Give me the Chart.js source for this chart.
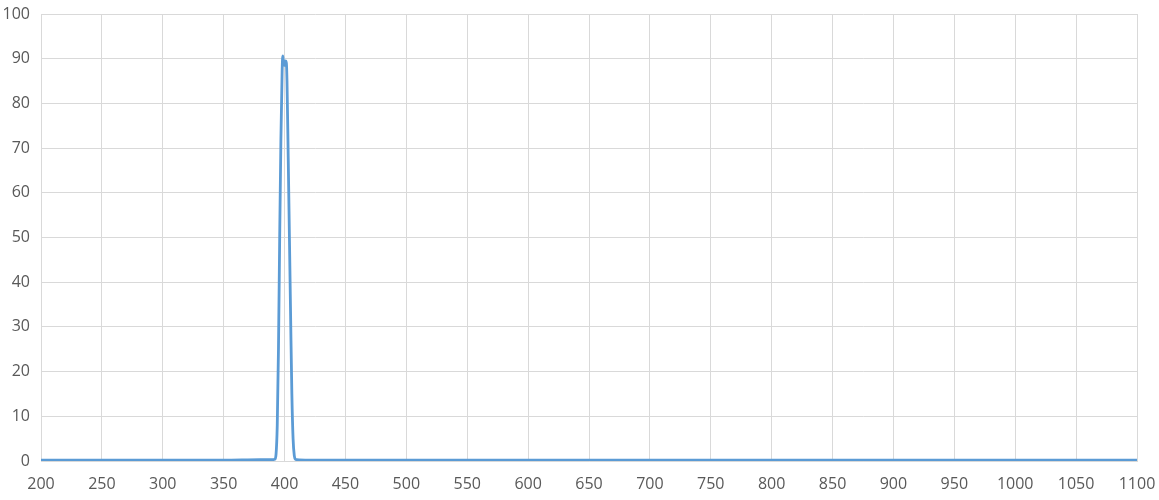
<!DOCTYPE html>
<html>
<head>
<meta charset="utf-8">
<script src="https://cdn.jsdelivr.net/npm/chart.js@4/dist/chart.umd.min.js"></script>
<style>
  html, body { margin: 0; padding: 0; background: #fff; }
  #chart { display: block; }
</style>
</head>
<body>
<canvas id="chart" width="1159" height="500"></canvas>
<script>
// wavelength (nm) and transmission (%)
const wavelengths = [200, 250, 300, 350, 380, 390, 392, 393, 394, 395, 396, 397, 398, 398.5, 399, 400, 400.8, 401.5, 402, 403, 404, 405, 406, 407, 408, 409, 410, 420, 450, 500, 600, 700, 800, 900, 1000, 1100];
const transmission = [0.2, 0.2, 0.2, 0.2, 0.3, 0.3, 0.4, 1.5, 8, 25, 50, 72, 87, 90.6, 89.5, 88.5, 89.5, 89, 85, 68, 50, 32, 15, 5, 1.2, 0.4, 0.3, 0.2, 0.2, 0.2, 0.2, 0.2, 0.2, 0.2, 0.2, 0.2];
const xTicks = [200, 250, 300, 350, 400, 450, 500, 550, 600, 650, 700, 750, 800, 850, 900, 950, 1000, 1050, 1100];

const points = wavelengths.map((w, i) => ({ x: w, y: transmission[i] }));

const ctx = document.getElementById('chart').getContext('2d');
new Chart(ctx, {
    type: 'line',
    data: {
        datasets: [{
            data: points,
            borderColor: '#5b9bd5',
            borderWidth: 2.8,
            pointRadius: 0,
            cubicInterpolationMode: 'monotone',
            fill: false
        }]
    },
    options: {
        responsive: false,
        animation: false,
        layout: { padding: { top: 14, right: 22, left: 0, bottom: 0 } },
        plugins: { legend: { display: false }, tooltip: { enabled: false } },
        scales: {
            x: {
                type: 'linear',
                min: 200,
                max: 1100,
                afterBuildTicks: axis => { axis.ticks = xTicks.map(v => ({ value: v })); },
                afterFit: axis => {
                    axis.height = 39;
                    axis.paddingLeft = 0;
                    axis.paddingRight = 0;
                },
                grid: { color: '#d9d9d9', lineWidth: 1, drawTicks: false },
                border: { color: '#d9d9d9' },
                ticks: {
                    color: '#595959',
                    font: { family: 'Open Sans', size: 16 },
                    padding: 14,
                    maxRotation: 0,
                    autoSkip: false,
                    callback: v => String(v)
                }
            },
            y: {
                min: 0,
                max: 100,
                afterFit: axis => {
                    axis.width = 41;
                    axis.paddingTop = 0;
                    axis.paddingBottom = 0;
                },
                grid: { color: '#d9d9d9', lineWidth: 1, drawTicks: false },
                border: { color: '#d9d9d9' },
                ticks: {
                    stepSize: 10,
                    color: '#595959',
                    font: { family: 'Open Sans', size: 16 },
                    padding: 11,
                    callback: v => String(v)
                }
            }
        }
    }
});
</script>
</body>
</html>
